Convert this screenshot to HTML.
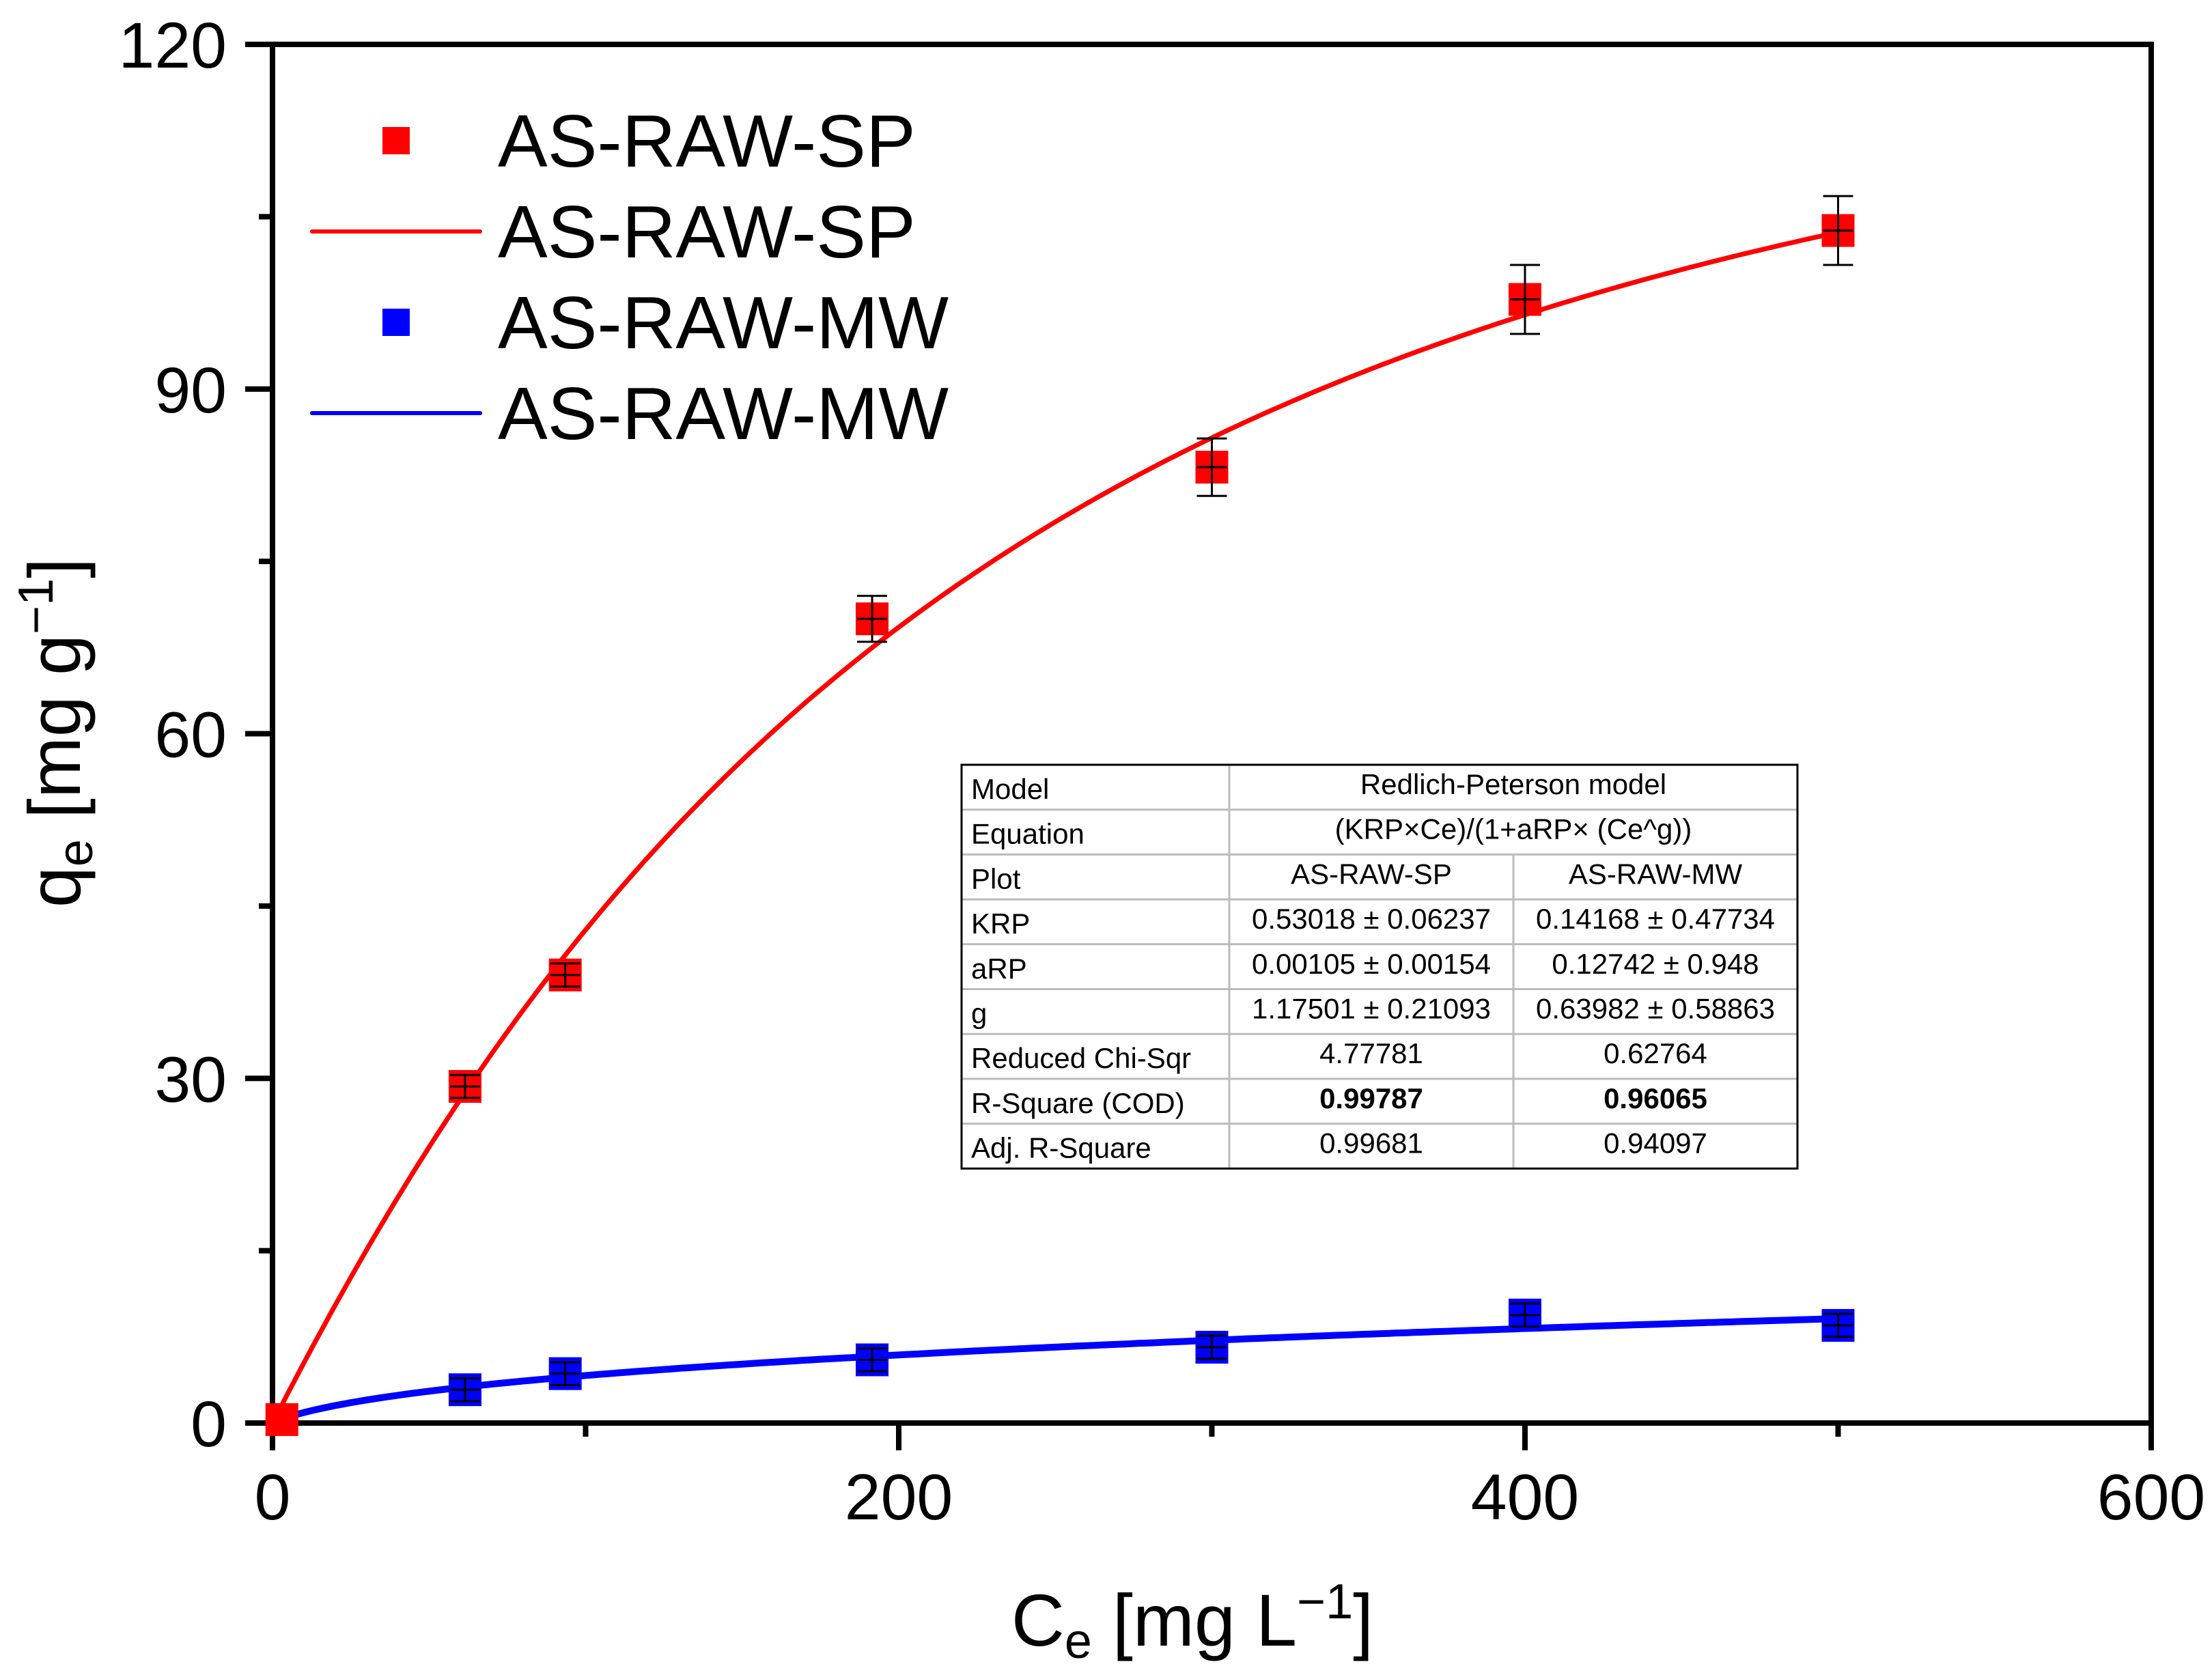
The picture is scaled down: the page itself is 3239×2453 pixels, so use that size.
<!DOCTYPE html>
<html><head><meta charset="utf-8"><style>
body{margin:0;background:#fff}
svg{display:block}
text{font-family:"Liberation Sans",Arial,sans-serif;fill:#000}
</style></head><body>
<svg id="chart" width="3239" height="2453" viewBox="0 0 3239 2453" xmlns="http://www.w3.org/2000/svg">
<g id="axes"></g>
<g id="series"></g>
<g id="legend"></g>
<g id="tbl"></g>
<text transform="translate(117,1073) rotate(-90)" text-anchor="middle" font-size="108">q<tspan font-size="72" dy="18">e</tspan><tspan dy="-18"> [mg g</tspan><tspan font-size="72" dy="-40">−1</tspan><tspan dy="40">]</tspan></text>
<text x="1746" y="2410" text-anchor="middle" font-size="108">C<tspan font-size="72" dy="18">e</tspan><tspan dy="-18"> [mg L</tspan><tspan font-size="72" dy="-40">−1</tspan><tspan dy="40">]</tspan></text>
</svg>
<script>
const xTicks=[0,200,400,600];
const xMinor=[100,300,500];
const yTicks=[0,30,60,90,120];
const yMinor=[15,45,75,105];
const spX=[3,61.5,93.5,191.5,300,400,500];
const spY=[0.3,29.3,39.0,70.0,83.2,97.8,103.8];
const spErr=[0,1,1,2,2.5,3,3];
const mwX=[61.5,93.5,191.5,300,400,500];
const mwY=[2.9,4.3,5.5,6.6,9.4,8.5];
const mwErr=[1,1,1,1,1,1];
const spParams=[0.53018,0.00105,1.17501];
const mwParams=[0.14168,0.12742,0.63982];
const legendLabels=["AS-RAW-SP","AS-RAW-SP","AS-RAW-MW","AS-RAW-MW"];
const tableRows=[
["Model","Redlich-Peterson model",null],
["Equation","(KRP×Ce)/(1+aRP× (Ce^g))",null],
["Plot","AS-RAW-SP","AS-RAW-MW"],
["KRP","0.53018 ± 0.06237","0.14168 ± 0.47734"],
["aRP","0.00105 ± 0.00154","0.12742 ± 0.948"],
["g","1.17501 ± 0.21093","0.63982 ± 0.58863"],
["Reduced Chi-Sqr","4.77781","0.62764"],
["R-Square (COD)","0.99787","0.96065"],
["Adj. R-Square","0.99681","0.94097"]];

const NS="http://www.w3.org/2000/svg";
const L=399,R=3150,T=65,B=2084;
const sx=v=>L+(v-0)/600*(R-L);
const sy=v=>B-(v-0)/120*(B-T);
function mk(p,tag,a){const e=document.createElementNS(NS,tag);for(const k in a)e.setAttribute(k,a[k]);p.appendChild(e);return e;}
const axes=document.getElementById('axes');
let e=mk(axes,'rect',{x:L,y:T,width:R-L,height:B-T,fill:'none',stroke:'#000','stroke-width':8});


xTicks.forEach(v=>{
 let t=mk(axes,'line',{x1:sx(v),x2:sx(v),y1:B,y2:B+40,stroke:'#000','stroke-width':8});
 
 
 let l=mk(axes,'text',{x:sx(v),y:2225,'text-anchor':'middle','font-size':95});l.textContent=v;
 
 
});
xMinor.forEach(v=>{
 let t=mk(axes,'line',{x1:sx(v),x2:sx(v),y1:B,y2:B+20,stroke:'#000','stroke-width':8});
 
 
});
yTicks.forEach(v=>{
 let t=mk(axes,'line',{x1:L-40,x2:L,y1:sy(v),y2:sy(v),stroke:'#000','stroke-width':8});
 
 
 let l=mk(axes,'text',{x:332,y:sy(v)+34,'text-anchor':'end','font-size':95});l.textContent=v;
 
 
});
yMinor.forEach(v=>{
 let t=mk(axes,'line',{x1:L-20,x2:L,y1:sy(v),y2:sy(v),stroke:'#000','stroke-width':8});
 
 
});
const ser=document.getElementById('series');
function curve(p,color,w,name){
 let d='';for(let c=0.5;c<=500;c+=2){const q=p[0]*c/(1+p[1]*Math.pow(c,p[2]));d+=(d?'L':'M')+sx(c).toFixed(1)+' '+sy(q).toFixed(1);}
 let pa=mk(ser,'path',{d:d,fill:'none',stroke:color,'stroke-width':w,'stroke-linejoin':'round'});
 
 
}
function points(xs,ys,es,color,name){
 xs.forEach((x,i)=>{
  const cx=sx(x),cy=sy(ys[i]);
  let r=mk(ser,'rect',{x:cx-24,y:cy-24,width:48,height:48,fill:color});
  
  
  if(es[i]>0){
   let g=mk(ser,'path',{d:`M${cx} ${sy(ys[i]+es[i])}V${sy(ys[i]-es[i])}M${cx-22} ${sy(ys[i]+es[i])}H${cx+22}M${cx-22} ${sy(ys[i]-es[i])}H${cx+22}M${cx-22} ${cy}H${cx+22}`,stroke:'#000','stroke-width':3,fill:'none'});
   
   
  }
 });
}
curve(spParams,'#ff0000',7,'sp-fit-line');
curve(mwParams,'#0000ff',10,'mw-fit-line');
points(spX,spY,spErr,'#ff0000','sp');
points(mwX,mwY,mwErr,'#0000ff','mw');
const leg=document.getElementById('legend');
const ly=[206,339,472,605];
legendLabels.forEach((lab,i)=>{
 const col=i<2?'#ff0000':'#0000ff';
 let s;
 if(i%2===0){s=mk(leg,'rect',{x:560,y:ly[i]-20,width:40,height:40,fill:col});}
 else{s=mk(leg,'line',{x1:457,x2:703,y1:ly[i],y2:ly[i],stroke:col,'stroke-width':6,'stroke-linecap':'round'});}
 
 let t=mk(leg,'text',{x:729,y:ly[i]+38,'font-size':109});t.textContent=lab;
 
 
});
const tb=document.getElementById('tbl');
const tx0=1408,tx1=1800,tx2=2216,tx3=2632,ty0=1120,rh=65.7;
tableRows.forEach((row,i)=>{
 const y=ty0+i*rh;
 if(i>0){let ln=mk(tb,'line',{x1:tx0,x2:tx3,y1:y,y2:y,stroke:'#bbb','stroke-width':3});}
 let a=mk(tb,'text',{x:tx0+14,y:y+50,'font-size':42});a.textContent=row[0];
 
 
 const bold=i===7?'bold':'normal';
 if(row[2]===null){
  let b=mk(tb,'text',{x:(tx1+tx3)/2,y:y+43,'text-anchor':'middle','font-size':42});b.textContent=row[1];
  
  
 }else{
  let b=mk(tb,'text',{x:(tx1+tx2)/2,y:y+43,'text-anchor':'middle','font-size':42,'font-weight':bold});b.textContent=row[1];
  
  
  let c=mk(tb,'text',{x:(tx2+tx3)/2,y:y+43,'text-anchor':'middle','font-size':42,'font-weight':bold});c.textContent=row[2];
  
  
 }
});
let v1=mk(tb,'line',{x1:tx1,x2:tx1,y1:ty0,y2:ty0+9*rh,stroke:'#bbb','stroke-width':3});


let v2=mk(tb,'line',{x1:tx2,x2:tx2,y1:ty0+2*rh,y2:ty0+9*rh,stroke:'#bbb','stroke-width':3});


let fr=mk(tb,'rect',{x:tx0,y:ty0,width:tx3-tx0,height:9*rh,fill:'none',stroke:'#000','stroke-width':3});


</script>
</body></html>
